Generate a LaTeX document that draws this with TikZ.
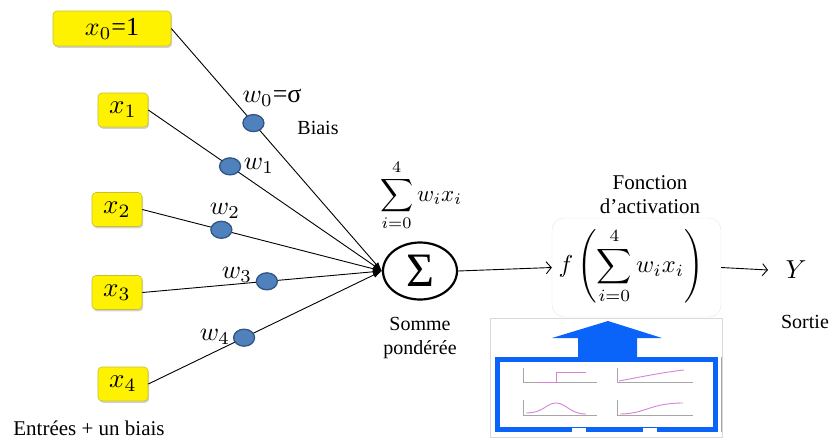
\documentclass[tikz,border=0pt]{standalone}
\usepackage{amsmath}
\usepackage{graphicx}
\usepackage{fontspec}
\setmainfont{Liberation Serif}
\usetikzlibrary{shapes.geometric,arrows.meta,shadows,calc}
\definecolor{dotfill}{RGB}{79,129,189}
\definecolor{dotline}{RGB}{50,85,130}
\definecolor{arrblue}{RGB}{10,100,250}
\definecolor{curvepink}{RGB}{215,130,215}
\begin{document}
\begin{tikzpicture}[x=1pt,y=-1pt,
  inbox/.style={draw=yellow!75!black, fill=yellow, rounded corners=4pt, line width=0.6pt,
    drop shadow={shadow xshift=1.2pt,shadow yshift=-1.8pt,opacity=0.35},
    inner sep=0pt},
  wdot/.style={ellipse, draw=dotline, fill=dotfill, line width=1.3pt,
    minimum width=21pt, minimum height=17pt, inner sep=0pt},
  wlab/.style={inner sep=0pt},
  lbl/.style={font=\fontsize{20}{24}\selectfont, align=center, inner sep=0pt},
  conn/.style={line width=0.9pt, -{Latex[length=9pt,width=6pt]}},
  oarr/.style={line width=0.9pt, -{Straight Barb[length=5pt,width=12pt]}},
  axis/.style={gray!70, line width=0.5pt},
  curve/.style={curvepink, line width=0.9pt}
]
\useasboundingbox (0,0) rectangle (829,440);

% input boxes
\node[inbox, minimum width=118pt, minimum height=35pt] (x0) at (112,28.5) {\scalebox{2.6}{$x_0$=1}};
\node[inbox, minimum width=50pt, minimum height=34pt] (x1) at (123,110) {\scalebox{2.7}{$x_1$}};
\node[inbox, minimum width=50pt, minimum height=34pt] (x2) at (117,209.5) {\scalebox{2.7}{$x_2$}};
\node[inbox, minimum width=50pt, minimum height=34pt] (x3) at (117,292.5) {\scalebox{2.7}{$x_3$}};
\node[inbox, minimum width=50pt, minimum height=34pt] (x4) at (123,384) {\scalebox{2.7}{$x_4$}};

% summation node
\node[ellipse, draw, line width=2.2pt, minimum width=74pt, minimum height=57pt, inner sep=0pt]
  (sig) at (420,271) {\fontsize{48}{48}\selectfont Σ};

% connectors
\draw[conn] (x0.east) -- (sig.west);
\draw[conn] (x1.east) -- (sig.west);
\draw[conn] (x2.east) -- (sig.west);
\draw[conn] (x3.east) -- (sig.west);
\draw[conn] (x4.east) -- (sig.west);

% weight dots
\node[wdot] (d0) at ($(x0.east)!0.39!(sig.west)$) {};
\node[wdot] (d1) at ($(x1.east)!0.35!(sig.west)$) {};
\node[wdot] (d2) at ($(x2.east)!0.33!(sig.west)$) {};
\node[wdot] (d3) at ($(x3.east)!0.52!(sig.west)$) {};
\node[wdot] (d4) at ($(x4.east)!0.41!(sig.west)$) {};

% weight labels
\node[wlab] (w0) at (272,98) {\scalebox{2.6}{$w_0$=σ}};
\node[wlab] (w1) at (259,166) {\scalebox{2.6}{$w_1$}};
\node[wlab] (w2) at (225,211) {\scalebox{2.6}{$w_2$}};
\node[wlab] (w3) at (237,275) {\scalebox{2.6}{$w_3$}};
\node[wlab] (w4) at (215,337) {\scalebox{2.6}{$w_4$}};

% texts
\node[lbl] (biais) at (318,128) {Biais};
\node[lbl, font=\fontsize{21}{24}\selectfont] (entrees) at (89,428) {Entrées + un biais};
\node[lbl] (somme) at (420,338) {Somme\\pondérée};
\node[inner sep=0pt] (sumlab) at (421,195)
  {\scalebox{2.3}{$\displaystyle\sum_{i=0}^{4} w_i x_i$}};
\node[lbl, font=\fontsize{21}{24}\selectfont] (fonc) at (650,195) {Fonction\\d’activation};

% bottom picture (activation functions)
\draw[black!15, line width=0.8pt] (490,318) rectangle (722,437);
\draw[black!35, line width=1pt] (721,357) -- (721,432);
\draw[arrblue, line width=5pt] (497.5,359.5) rectangle (715.5,429.5);
\fill[arrblue] (578,361) -- (578,338) -- (552,338) -- (608,321) -- (662,338) -- (637,338) -- (637,361) -- cycle;
\fill[white] (572,428) rectangle (586,432.5);
\fill[white] (643,428) rectangle (657,432.5);
% mini plots
\draw[axis] (523,368) -- (523,382) -- (597,382);
\draw[curve] (540,382.5) -- (556,382.5) -- (556,372) -- (586,372);
\draw[axis] (617,368) -- (617,382) -- (693,382);
\draw[curve] (619,381) .. controls (640,377) and (665,372) .. (684,370);
\draw[axis] (523,400) -- (523,415) -- (597,415);
\draw[curve] (526,413) .. controls (544,413) and (546,403) .. (556,403) .. controls (566,403) and (570,414) .. (586,414);
\draw[axis] (617,400) -- (617,415) -- (693,415);
\draw[curve] (620,414) .. controls (645,414) and (650,403) .. (683,403);

% activation box
\node[draw=black!10, fill=white, rounded corners=12pt, minimum width=169pt, minimum height=99pt,
  inner sep=0pt] (fb) at (636.5,267.5) {};
\node[inner sep=0pt] (fexpr) at (631,266)
  {\scalebox{2.45}{$f\left(\displaystyle\sum_{i=0}^{4} w_i x_i\right)$}};

% output
\node[inner sep=0pt] (Y) at (796,270) {\scalebox{2.6}{$Y$}};
\node[lbl] (sortie) at (805,322) {Sortie};
\coordinate (yend) at (768,270);
\draw[oarr] (sig.east) -- (fb.west);
\draw[oarr] (fb.east) -- (yend);
\end{tikzpicture}
\end{document}
